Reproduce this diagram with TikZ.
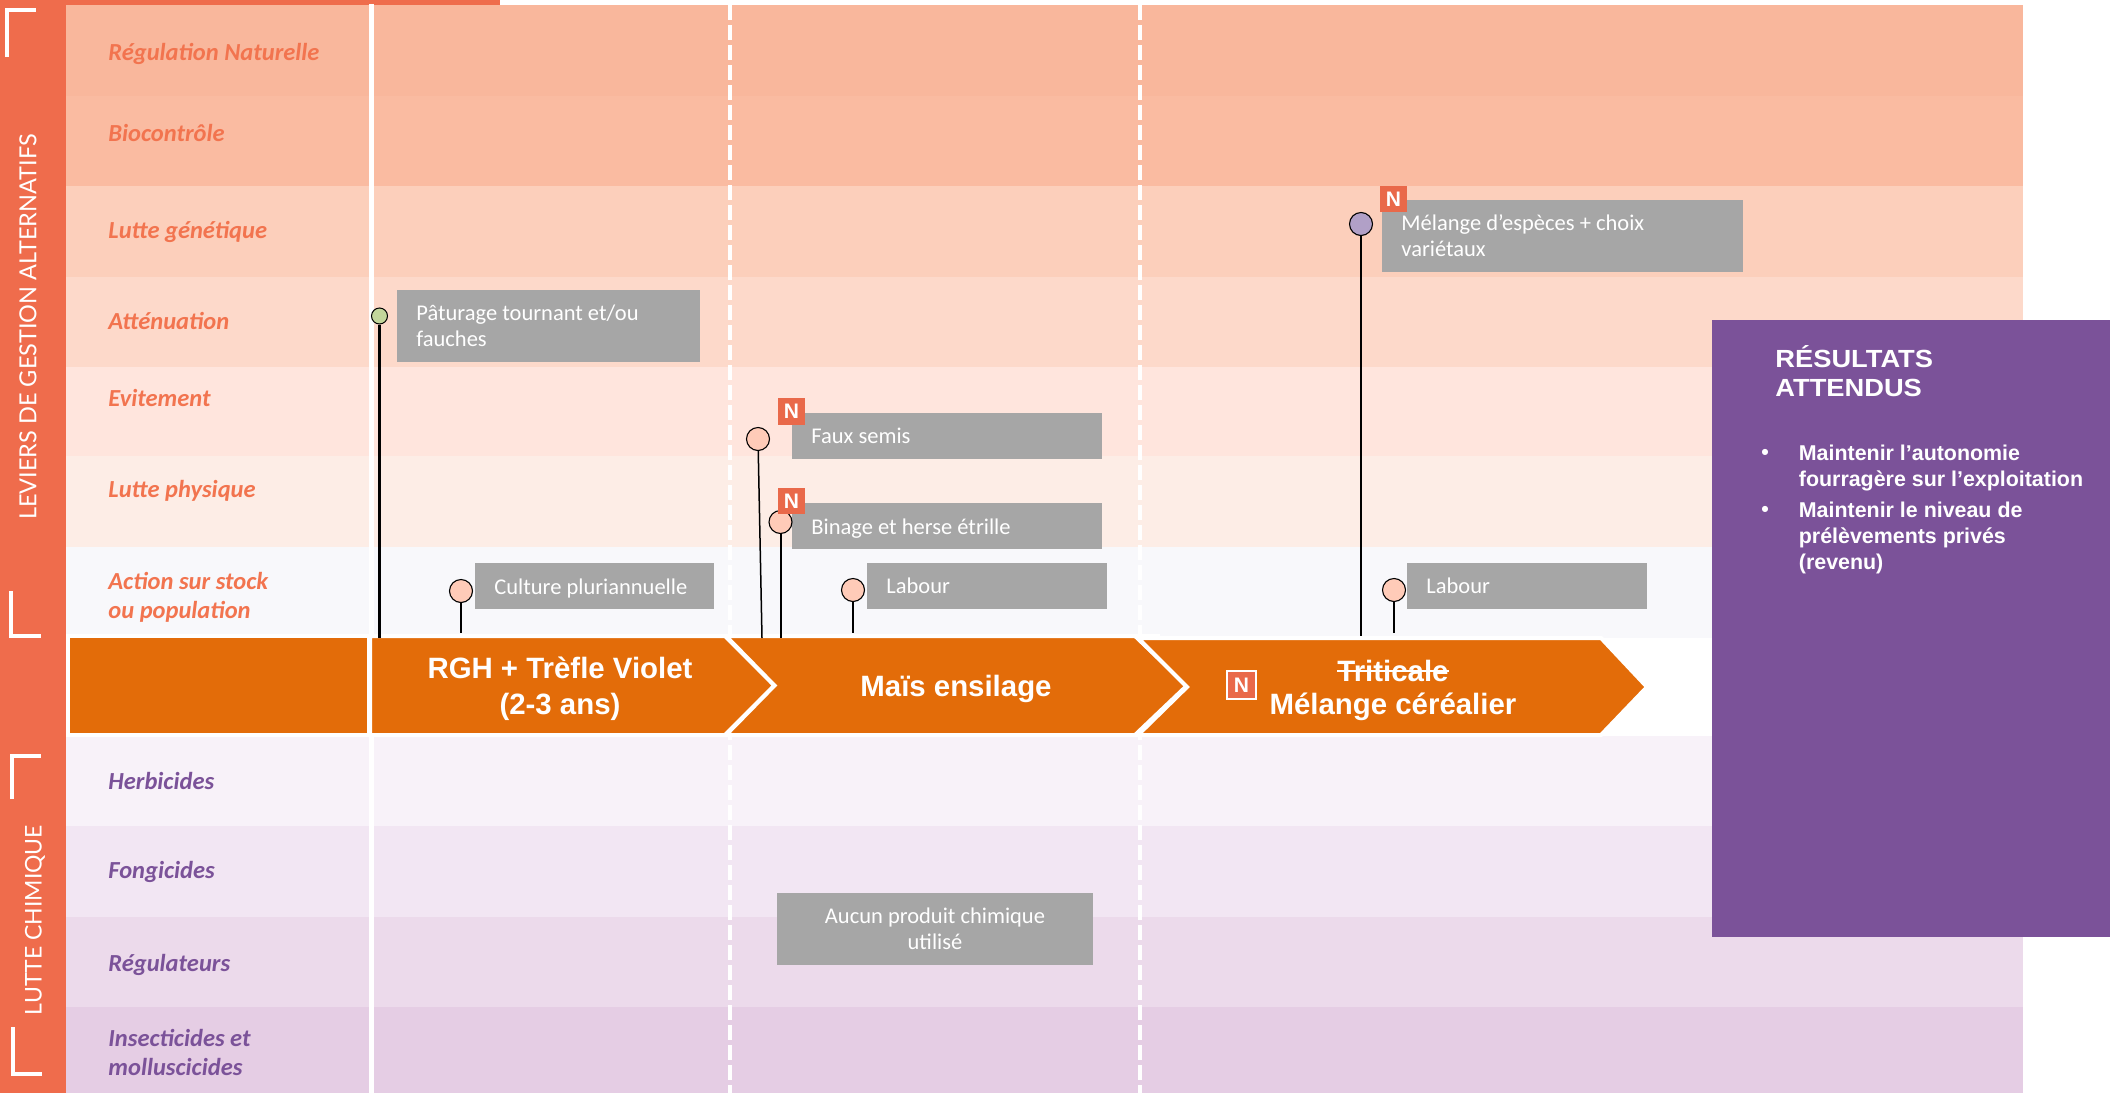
\documentclass[tikz,border=0pt]{standalone}
\usepackage{fontspec}
\setmainfont{Carlito}
\newfontfamily\arialf{Liberation Sans}
\newfontfamily\widef[FakeStretch=1.1]{Liberation Sans}
\newfontfamily\sidef{Lato}
\definecolor{sidebar}{HTML}{EF6C4C}
\definecolor{nbox}{HTML}{E9694A}
\definecolor{orangebar}{HTML}{E36C09}
\definecolor{purplebox}{HTML}{7B5299}
\definecolor{greyb}{HTML}{A6A6A6}
\definecolor{rowredc}{HTML}{F2744F}
\definecolor{pinred}{HTML}{FFCBB8}
\definecolor{pingreen}{HTML}{C3D69B}
\definecolor{pinpurple}{HTML}{B1A0C7}
\tikzset{
  x=0.5pt,y=-0.5pt,
  rowlabr/.style={anchor=west,inner sep=0pt,text=rowredc,font=\fontsize{12.25}{14.5}\selectfont\bfseries\itshape,align=left},
  rowlabp/.style={anchor=west,inner sep=0pt,text=purplebox,font=\fontsize{12.25}{14.5}\selectfont\bfseries\itshape,align=left},
  boxtext/.style={inner sep=0pt,text=white,font=\fontsize{11.25}{13}\selectfont,align=left},
  pin/.style={circle,draw=black,line width=0.55pt,inner sep=0pt,minimum size=11.5pt},
  smallpin/.style={circle,draw=black,line width=0.5pt,inner sep=0pt,minimum size=8pt},
  stem/.style={draw=black,line width=0.75pt},
  chev/.style={fill=orangebar,draw=white,line width=2pt,line join=miter},
  chevtext/.style={inner sep=0pt,text=white,font=\arialf\bfseries\fontsize{14.7}{18}\selectfont,align=center},
  nmark/.style={inner sep=0pt,text=white,font=\arialf\bfseries\fontsize{10.5}{11}\selectfont},
  whitedash/.style={draw=white,line width=2.3pt,dash pattern=on 7.5pt off 2.5pt},
  bracket/.style={draw=white,line width=1.8pt},
  sidetext/.style={rotate=90,inner sep=0pt,text=white,font=\sidef\fontsize{11.5}{13}\selectfont},
  restext/.style={anchor=west,inner sep=0pt,text=white,font=\arialf\bfseries\fontsize{10.7}{13}\selectfont,align=left},
}
\newcommand{\rowband}[3]{\definecolor{bandc}{HTML}{#3}\fill[bandc] (66,#1) rectangle (2023,#2);}
\begin{document}
\begin{tikzpicture}
\useasboundingbox (0,0) rectangle (2110,1093);
\fill[white] (0,0) rectangle (2110,1093);
% sidebar
\fill[sidebar] (0,0) rectangle (500,5);
\fill[sidebar] (0,0) rectangle (66,1093);
% bands
\rowband{5}{96}{F9B79C}
\rowband{96}{186}{FABBA1}
\rowband{186}{277}{FCCFBB}
\rowband{277}{367}{FDD9CA}
\rowband{367}{456}{FFE5DD}
\rowband{456}{547}{FDEDE6}
\rowband{547}{638}{F8F8FB}
\rowband{736}{826}{F8F2F9}
\rowband{826}{917}{F2E6F3}
\rowband{917}{1007}{ECDAEB}
\rowband{1007}{1093}{E5CDE4}
% vertical separators
\coordinate (s1t) at (371,4); \coordinate (s1b) at (371,1093);
\coordinate (s2t) at (730,5); \coordinate (s2b) at (730,1093);
\coordinate (s3t) at (1140,5); \coordinate (s3b) at (1140,1093);
\draw[white,line width=2.5pt] (s1t) -- (s1b);
\draw[whitedash] (s2t) -- (s2b);
\draw[whitedash] (s3t) -- (s3b);
% result box
\fill[purplebox] (1712,320) rectangle (2110,937);
\node[anchor=west,inner sep=0pt,text=white,font=\widef\bfseries\fontsize{12.4}{14.5}\selectfont,align=left] (restitle) at (1775,371) {RÉSULTATS\\ATTENDUS};
\node[restext] (res1) at (1798.5,468) {Maintenir l’autonomie\\fourragère sur l’exploitation};
\node[restext] (res2) at (1798.5,537.5) {Maintenir le niveau de\\prélèvements privés\\(revenu)};
\node[restext] (bul1) at (1761,454) {•};
\node[restext] (bul2) at (1761,511) {•};
% orange bar
\fill[white] (66,634) rectangle (1160,737);
\draw[chev] (68,636) rectangle (369,735);
\coordinate (c1t) at (379.5,638);
\draw[chev] (370,636) -- (725,636) -- (774.5,685.5) -- (725,735) -- (370,735) -- cycle;
\draw[chev] (726,636) -- (1135,636) -- (1187,685.5) -- (1135,735) -- (726,735) -- (774.5,685.5) -- cycle;
\draw[chev] (1138,638) -- (1601,638) -- (1647,687) -- (1601,735) -- (1138,735) -- (1187,687) -- cycle;
\node[chevtext] (t1) at (560,688.5) {RGH + Trèfle Violet\\(2-3 ans)};
\node[chevtext] (t2) at (956,688.5) {Maïs ensilage};
\node[chevtext] (t3a) at (1393,670.5) {Triticale};
\node[chevtext] (t3b) at (1393,707) {Mélange céréalier};
\draw[white,line width=1pt] (t3a.west) -- (t3a.east);
\node[fill=nbox,draw=white,line width=1.2pt,minimum width=14.5pt,minimum height=14pt,nmark] (n4) at (1241.5,685) {N};
% grey boxes
\fill[greyb] (397,290) rectangle (700,362);
\node[boxtext,anchor=west] (b1) at (416,326) {Pâturage tournant et/ou\\fauches};
\fill[greyb] (475,563) rectangle (714,609);
\node[boxtext,anchor=west] (b2) at (494,588.5) {Culture pluriannuelle};
\fill[greyb] (792,413) rectangle (1102,459);
\node[boxtext,anchor=west] (b3) at (811,436) {Faux semis};
\fill[greyb] (792,503) rectangle (1102,549);
\node[boxtext,anchor=west] (b4) at (811,528.5) {Binage et herse étrille};
\fill[greyb] (867,563) rectangle (1107,609);
\node[boxtext,anchor=west] (b5) at (886,586) {Labour};
\fill[greyb] (1407,563) rectangle (1647,609);
\node[boxtext,anchor=west] (b6) at (1426,586) {Labour};
\fill[greyb] (1382,200) rectangle (1743,272);
\node[boxtext,anchor=west] (b7) at (1401,236) {Mélange d’espèces + choix\\variétaux};
\fill[greyb] (777,893) rectangle (1093,965);
\node[boxtext,align=center] (b8) at (935,928.5) {Aucun produit chimique\\utilisé};
% pins
\node[smallpin,fill=pingreen] (p1) at (379.5,316) {};
\draw[black,line width=1.4pt] (p1) -- (c1t);
\node[pin,fill=pinred] (p2) at (461,591) {};
\coordinate (p2e) at (461,633);
\draw[stem] (p2) -- (p2e);
\node[pin,fill=pinred] (p3) at (758,439) {};
\coordinate (p3e) at (762,638);
\draw[stem] (p3) -- (p3e);
\node[pin,fill=pinred] (p4) at (780.5,522) {};
\coordinate (p4e) at (780.5,638);
\draw[black,line width=1pt] (p4) -- (p4e);
\node[pin,fill=pinred] (p5) at (853,590) {};
\coordinate (p5e) at (853,633);
\draw[black,line width=1.1pt] (p5) -- (p5e);
\node[pin,fill=pinred] (p6) at (1394,590) {};
\coordinate (p6e) at (1394,633);
\draw[stem] (p6) -- (p6e);
\node[pin,fill=pinpurple] (p7) at (1361,224) {};
\coordinate (p7e) at (1361,636);
\draw[stem] (p7) -- (p7e);
% N marks
\node[fill=nbox,minimum width=13.5pt,minimum height=13.2pt,nmark] (n1) at (791.5,411.5) {N};
\node[fill=nbox,minimum width=13.5pt,minimum height=13.2pt,nmark] (n2) at (791.5,501) {N};
\node[fill=nbox,minimum width=13.5pt,minimum height=13.2pt,nmark] (n3) at (1393.5,199) {N};
% row labels
\node[rowlabr] (r1) at (108,53.5) {Régulation Naturelle};
\node[rowlabr] (r2) at (108,133) {Biocontrôle};
\node[rowlabr] (r3) at (108,232) {Lutte génétique};
\node[rowlabr] (r4) at (108,321) {Atténuation};
\node[rowlabr] (r5) at (108,398) {Evitement};
\node[rowlabr] (r6) at (108,491) {Lutte physique};
\node[rowlabr] (r7) at (108,597.5) {Action sur stock\\ou population};
\node[rowlabp] (r8) at (108,781) {Herbicides};
\node[rowlabp] (r9) at (108,871.5) {Fongicides};
\node[rowlabp] (r10) at (108,964.5) {Régulateurs};
\node[rowlabp] (r11) at (108,1052.5) {Insecticides et\\molluscicides};
% sidebar titles and brackets
\node[sidetext,font=\sidef\fontsize{11.75}{13}\selectfont] (side1) at (28,327) {LEVIERS DE GESTION ALTERNATIFS};
\node[sidetext] (side2) at (35,920) {LUTTE CHIMIQUE};
\draw[bracket] (7,57) -- (7,10) -- (36,10);
\draw[bracket] (11,591) -- (11,636) -- (41,636);
\draw[bracket] (12,799) -- (12,756) -- (41,756);
\draw[bracket] (13,1027) -- (13,1074) -- (42,1074);
\end{tikzpicture}
\end{document}
